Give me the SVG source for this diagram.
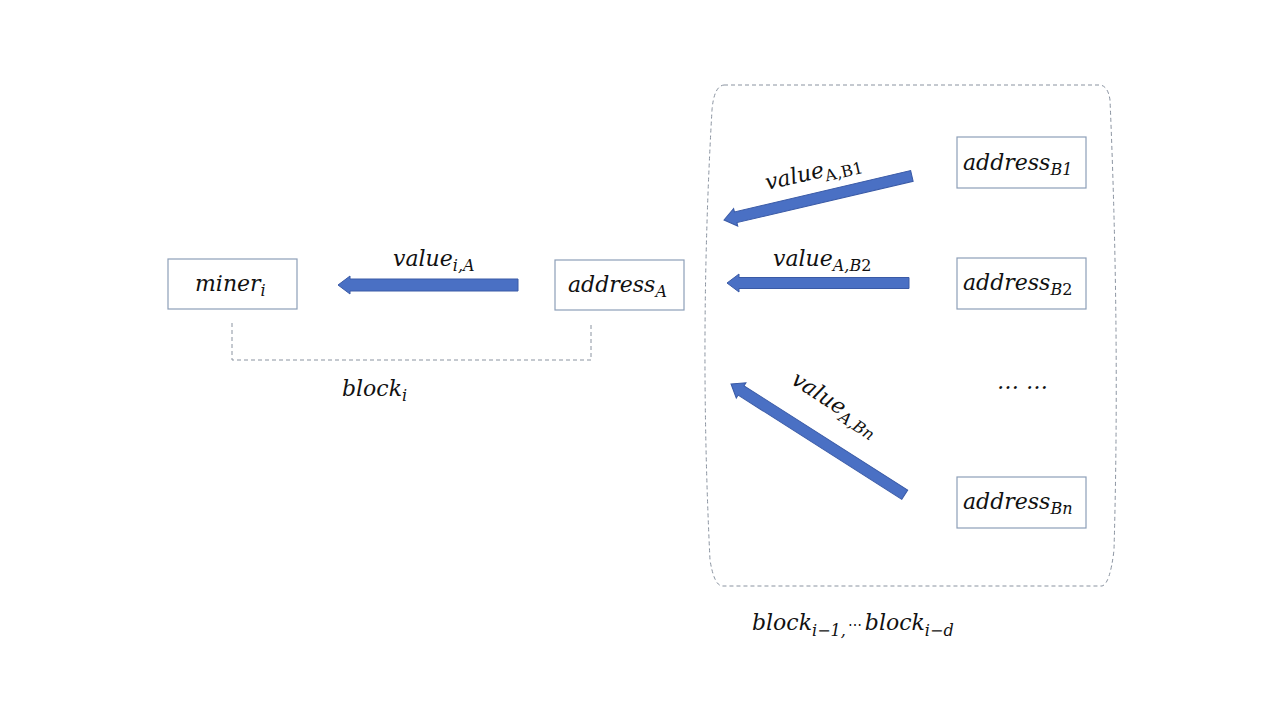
<svg xmlns="http://www.w3.org/2000/svg" width="1280" height="720" viewBox="0 0 1280 720">
<defs>
<style>
.box{fill:#ffffff;stroke:#8d9fb8;stroke-width:1.2}
.m{font-family:"DejaVu Serif","Liberation Serif",serif;font-style:italic;font-size:22px;fill:#111}
.s{font-size:16px}
.u{font-style:normal}
.arr{fill:#4a70c4;stroke:#3a5aa6;stroke-width:1}
.dash{fill:none;stroke:#8a93a0;stroke-width:1;stroke-dasharray:4 3}
</style>
</defs>
<rect width="1280" height="720" fill="#ffffff"/>
<g id="container">
<path class="dash" d="M724 85 H1100 Q1108 86 1110 100 Q1120 335 1114 550 Q1110 584 1102 586 H722 Q714 585 710 560 Q699 335 712 110 Q714 86 724 85 Z"/>
<text class="m" x="752" y="630">block<tspan class="s" dy="6">i−1</tspan><tspan class="s" dy="0">,</tspan><tspan dx="2" dy="-6" font-size="14" font-style="normal">⋯</tspan><tspan dx="3">block</tspan><tspan class="s" dy="6">i−d</tspan></text>
</g>
<g id="blocki">
<path class="dash" d="M232 323 V360 H591 V323"/>
<text class="m" x="342" y="396">block<tspan class="s" dy="5">i</tspan></text>
</g>
<g id="miner">
<rect class="box" x="168" y="259" width="129" height="50"/>
<text class="m" x="195" y="291">miner<tspan class="s" dy="5">i</tspan></text>
</g>
<g id="addressA">
<rect class="box" x="555" y="260" width="129" height="50"/>
<text class="m" x="568" y="292">address<tspan class="s" dy="5">A</tspan></text>
</g>
<g id="addressB1">
<rect class="box" x="957" y="137" width="129" height="51"/>
<text class="m" x="963" y="170">address<tspan class="s" dy="5">B1</tspan></text>
</g>
<g id="addressB2">
<rect class="box" x="957" y="258" width="129" height="51"/>
<text class="m" x="963" y="290">address<tspan class="s" dy="5">B</tspan><tspan class="s u">2</tspan></text>
</g>
<g id="dots">
<text class="m" x="997" y="389" font-style="normal" font-size="16">… …</text>
</g>
<g id="addressBn">
<rect class="box" x="957" y="477" width="129" height="51"/>
<text class="m" x="963" y="509">address<tspan class="s" dy="5">Bn</tspan></text>
</g>
<g id="connectors">
<path class="arr" transform="translate(338 285)" d="M0 0 L12 -9 L12 -6 L180 -6 L180 6 L12 6 L12 9 Z"/>
<path class="arr" transform="translate(724 220) rotate(-13.2)" d="M0 0 L12 -9 L12 -5.5 L193 -5.5 L193 5.5 L12 5.5 L12 9 Z"/>
<path class="arr" transform="translate(727 283)" d="M0 0 L12 -9 L12 -5.5 L182 -5.5 L182 5.5 L12 5.5 L12 9 Z"/>
<path class="arr" transform="translate(731 384) rotate(32.5)" d="M0 0 L12 -9 L12 -5.5 L206 -5.5 L206 5.5 L12 5.5 L12 9 Z"/>
<text class="m" x="393" y="266">value<tspan class="s" dy="5">i,A</tspan></text>
<text class="m" x="773" y="266">value<tspan class="s" dy="5">A,B</tspan><tspan class="s u">2</tspan></text>
<text class="m" transform="translate(767 190) rotate(-13)" x="0" y="0">value<tspan class="s u" dy="5">A,B1</tspan></text>
<text class="m" transform="translate(790 383) rotate(33)" x="0" y="0">value<tspan class="s" dy="5">A,Bn</tspan></text>
</g>
</svg>
